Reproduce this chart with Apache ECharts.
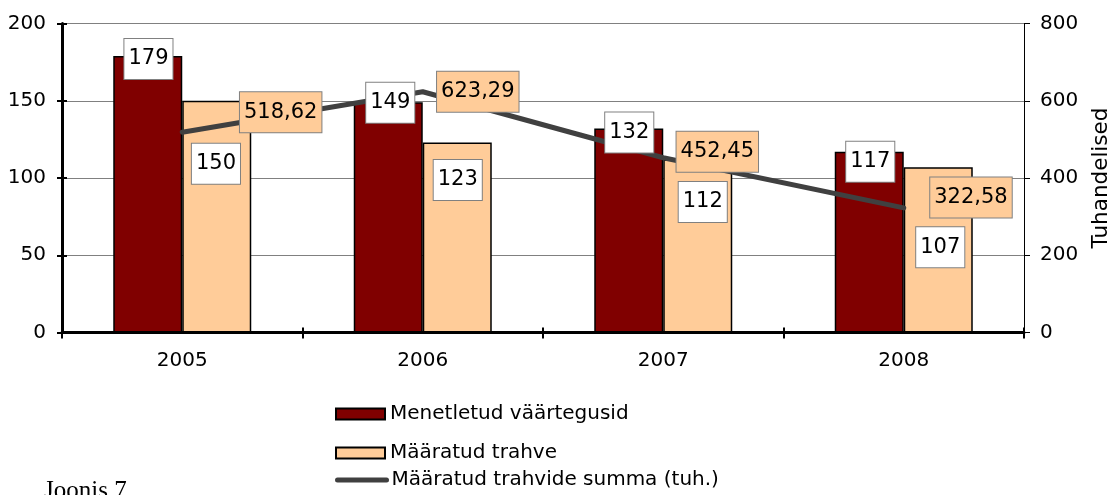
<!DOCTYPE html>
<html>
<head>
<meta charset="utf-8">
<script src="https://cdn.jsdelivr.net/npm/echarts@6/dist/echarts.min.js"></script>
<style>
html,body{margin:0;padding:0;background:#fff;}
#chart{width:1112px;height:495px;}
</style>
</head>
<body>
<div id="chart"></div>
<script>
// ---- data ----
const categories = ['2005', '2006', '2007', '2008'];
const menetletud = [179, 149, 132, 117];
const maaratud = [150, 123, 112, 107];
const summa = [518.62, 623.29, 452.45, 322.58];
const leftTicks = [0, 50, 100, 150, 200];
const rightTicks = [0, 200, 400, 600, 800];
const seriesNames = ['Menetletud väärtegusid', 'Määratud trahve', 'Määratud trahvide summa (tuh.)'];
const rightAxisName = 'Tuhandelised';
const captionText = 'Joonis 7';

// ---- label placement (styling, not data) ----
const darkLabelPos = [[0.7, 3], [2, 0.5], [0.5, 4], [1, 10]];
const lightLabelPos = [[-0.8, 63], [0.5, 37.5], [5, 42.5], [2, 80]];
const lineLabelOffset = [[56.7, -20], [13.3, 0], [12.3, -6], [25.5, -10.4]];

const FONT = 'DejaVu Sans';
const BAR_W = 69;
const DARK = '#800000';
const LIGHT = '#FFCC99';
const LINE = '#404040';

const boxLabel = {
  show: true,
  fontFamily: FONT,
  fontSize: 21,
  lineHeight: 24,
  color: '#000',
  backgroundColor: '#fff',
  borderColor: '#808080',
  borderWidth: 1,
  padding: [8, 4, 8, 4],
  align: 'center',
  verticalAlign: 'middle'
};

function labelBars(values, pos) {
  return values.map((v, i) => ({
    value: v,
    label: Object.assign({}, boxLabel, { position: [BAR_W / 2 + pos[i][0], pos[i][1]] })
  }));
}

const chart = echarts.init(document.getElementById('chart'), null, { renderer: 'canvas' });

const legendText = { fontFamily: FONT, fontSize: 20, lineHeight: 20, color: '#000' };

const option = {
  animation: false,
  backgroundColor: '#fff',
  textStyle: { fontFamily: FONT },
  grid: { left: 62, right: 88, top: 23.5, bottom: 162.5, containLabel: false, outerBoundsMode: 'none' },
  legend: [
    {
      orient: 'vertical', left: 330, top: 399,
      itemWidth: 49, itemHeight: 11, itemGap: 19,
      textStyle: legendText,
      itemStyle: { borderColor: '#000', borderWidth: 2 },
      data: [
        { name: seriesNames[0], icon: 'rect' },
        { name: seriesNames[1], icon: 'rect' }
      ],
      selectedMode: false
    },
    {
      orient: 'vertical', left: 330, top: 465,
      itemWidth: 49, itemHeight: 11, itemGap: 19,
      textStyle: legendText,
      data: [{ name: seriesNames[2], itemStyle: { opacity: 0 }, lineStyle: { width: 5, cap: 'round', color: LINE } }],
      selectedMode: false
    }
  ],
  xAxis: [
    {
      type: 'category', data: categories, boundaryGap: true,
      axisLine: { show: true, lineStyle: { color: '#000', width: 3 } },
      axisTick: { show: true, length: 6, lineStyle: { color: '#000', width: 2 } },
      axisLabel: { fontFamily: FONT, fontSize: 20, color: '#000', margin: 18 },
      splitLine: { show: false }
    },
    {
      type: 'category', data: categories, boundaryGap: true, position: 'bottom',
      axisLine: { show: false },
      axisTick: { show: true, inside: true, length: 5, lineStyle: { color: '#000', width: 2 } },
      axisLabel: { show: false },
      splitLine: { show: false }
    }
  ],
  yAxis: [
    {
      type: 'value', position: 'left', min: leftTicks[0], max: leftTicks[leftTicks.length - 1],
      interval: leftTicks[1] - leftTicks[0],
      axisLine: { show: true, lineStyle: { color: '#000', width: 3 } },
      axisTick: { show: true, length: 5, lineStyle: { color: '#000', width: 2 } },
      axisLabel: { fontFamily: FONT, fontSize: 20, color: '#000', margin: 16 },
      splitLine: { show: true, lineStyle: { color: '#808080', width: 1 } }
    },
    {
      type: 'value', position: 'right', min: rightTicks[0], max: rightTicks[rightTicks.length - 1],
      interval: rightTicks[1] - rightTicks[0],
      name: rightAxisName, nameLocation: 'middle', nameRotate: 90, nameGap: 66,
      nameTextStyle: { fontFamily: FONT, fontSize: 21.5, color: '#000' },
      axisLine: { show: true, lineStyle: { color: '#000', width: 1 } },
      axisTick: { show: true, length: 6, lineStyle: { color: '#000', width: 1 } },
      axisLabel: { fontFamily: FONT, fontSize: 20, color: '#000', margin: 16 },
      splitLine: { show: false }
    },
    {
      type: 'value', position: 'left', min: leftTicks[0], max: leftTicks[leftTicks.length - 1],
      interval: leftTicks[1] - leftTicks[0],
      axisLine: { show: false },
      axisTick: { show: true, inside: true, length: 5, lineStyle: { color: '#000', width: 2 } },
      axisLabel: { show: false },
      splitLine: { show: false }
    }
  ],
  series: [
    {
      name: seriesNames[0], type: 'bar', xAxisIndex: 0, yAxisIndex: 0,
      data: menetletud, barWidth: BAR_W, barGap: '0%', z: 2,
      itemStyle: { color: DARK, borderColor: '#000', borderWidth: 1.5 }
    },
    {
      name: seriesNames[1], type: 'bar', xAxisIndex: 0, yAxisIndex: 0,
      data: maaratud, barWidth: BAR_W, barGap: '0%', z: 2,
      itemStyle: { color: LIGHT, borderColor: '#000', borderWidth: 1.5 }
    },
    {
      name: seriesNames[2], type: 'line', xAxisIndex: 0, yAxisIndex: 1, z: 3,
      data: summa.map((v, i) => ({
        value: v,
        label: { offset: lineLabelOffset[i] }
      })),
      symbol: 'circle', symbolSize: 2,
      itemStyle: { color: LINE },
      lineStyle: { color: LINE, width: 5, cap: 'round', join: 'round' },
      label: {
        show: true, position: 'right', distance: 0,
        fontFamily: FONT, fontSize: 21, lineHeight: 24, color: '#000',
        backgroundColor: LIGHT, borderColor: '#808080', borderWidth: 1,
        padding: [8, 4, 8, 4],
        formatter: p => p.value.toFixed(2).replace('.', ',')
      }
    },
    {
      name: 'lbl-a', type: 'bar', xAxisIndex: 1, yAxisIndex: 0, z: 5, silent: true,
      data: labelBars(menetletud, darkLabelPos), barWidth: BAR_W, barGap: '0%',
      itemStyle: { color: 'rgba(0,0,0,0)', borderWidth: 0 }
    },
    {
      name: 'lbl-b', type: 'bar', xAxisIndex: 1, yAxisIndex: 0, z: 5, silent: true,
      data: labelBars(maaratud, lightLabelPos), barWidth: BAR_W, barGap: '0%',
      itemStyle: { color: 'rgba(0,0,0,0)', borderWidth: 0 }
    }
  ],
  graphic: [
    {
      type: 'text', left: 44, top: 479,
      style: { text: captionText, font: '25px "Liberation Serif"', fill: '#000' }
    }
  ]
};

chart.setOption(option);
</script>
</body>
</html>
